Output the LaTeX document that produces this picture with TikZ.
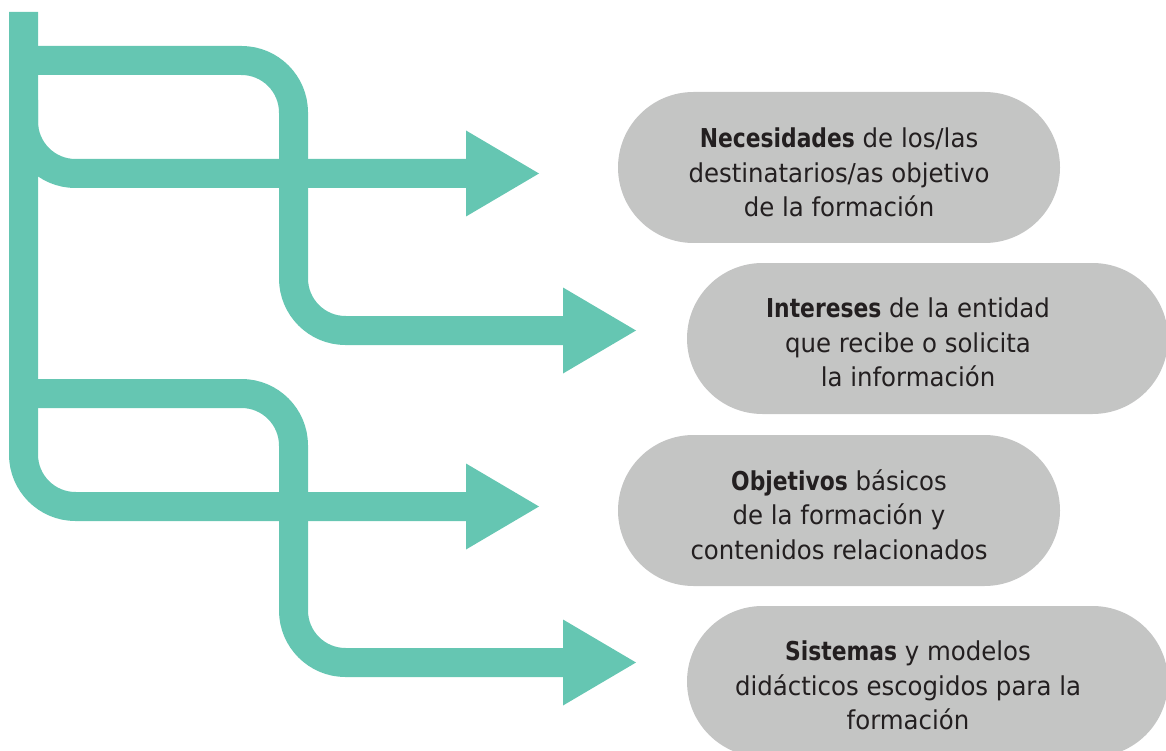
\documentclass[tikz,border=0pt]{standalone}
\usepackage{fontspec}
\setmainfont{DejaVu Sans}[FakeStretch=0.94,BoldFeatures={FakeStretch=0.84}]
\usetikzlibrary{arrows.meta}
\definecolor{bandteal}{RGB}{101,198,178}
\definecolor{pillgray}{RGB}{196,197,196}
\definecolor{txtc}{RGB}{35,31,32}
\begin{document}
\begin{tikzpicture}[x=1pt,y=-1pt,
  band/.style={draw=bandteal,line width=29pt,rounded corners=52pt},
  tipped/.style={band,-{Triangle[width=86pt,length=73pt,line width=0pt]}},
  pill/.style={rectangle,fill=pillgray,draw=none,rounded corners=75.5pt,
    minimum height=151pt,inner sep=0pt},
  txt/.style={align=center,text=txtc,inner sep=0pt,
    font=\fontsize{26pt}{34.5pt}\selectfont}]
\useasboundingbox (0,0) rectangle (1166,751);

% pills
\node[pill,minimum width=442pt] (p1) at (839,167.5) {};
\node[pill,minimum width=481pt] (p2) at (927.5,338.5) {};
\node[pill,minimum width=442pt] (p3) at (839,510.5) {};
\node[pill,minimum width=481pt] (p4) at (927.5,681.5) {};

\node[txt] (t1) at (839,172.6) {\textbf{Necesidades} de los/las\\destinatarios/as objetivo\\de la formación};
\node[txt] (t2) at (908,342.6) {\textbf{Intereses} de la entidad\\que recibe o solicita\\la información};
\node[txt] (t3) at (839,514.6) {\textbf{Objetivos} básicos\\de la formación y\\contenidos relacionados};
\node[txt] (t4) at (908,685.6) {\textbf{Sistemas} y modelos\\didácticos escogidos para la\\formación};

% coordinates
\coordinate (top) at (23.5,12);
\coordinate (jB) at (23.5,60.5);
\coordinate (jC) at (23.5,100);
\coordinate (jD) at (23.5,393.5);
\coordinate (a1) at (539,173.5);
\coordinate (a2) at (636,330.5);
\coordinate (a3) at (539,506.5);
\coordinate (a4) at (636,662.5);

% bands
\draw[tipped] (top) |- (a3);
\draw[tipped] (jC) |- (a1);
\draw[tipped] (jB) -- (293.5,60.5) |- (a2);
\draw[tipped] (jD) -- (293.5,393.5) |- (a4);
\end{tikzpicture}
\end{document}
